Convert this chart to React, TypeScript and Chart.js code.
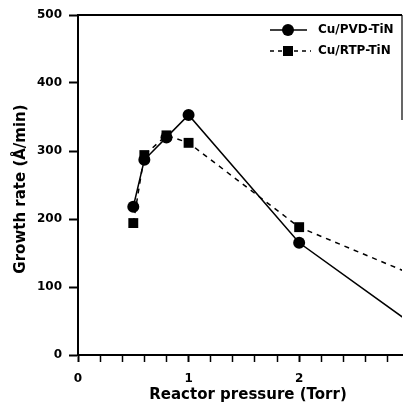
import React, { useEffect, useRef } from 'react';
import { Chart, registerables } from 'chart.js';

Chart.register(...registerables);

const pressureTorr = [0.5, 0.6, 0.8, 1.0, 2.0, 3.0];
const pvdRate = [218, 287, 320, 353, 165, 48];
const rtpRate = [194, 294, 323, 312, 188, 120];
const seriesNames = ['Cu/PVD-TiN', 'Cu/RTP-TiN'];
const xTickValues = [0, 0.2, 0.4, 0.6, 0.8, 1, 1.2, 1.4, 1.6, 1.8, 2, 2.2, 2.4, 2.6, 2.8];
const yTickValues = [0, 100, 200, 300, 400, 500];
const xTitle = 'Reactor pressure (Torr)';
const yTitle = 'Growth rate (Å/min)';

const FONT = '"DejaVu Sans", "Liberation Sans", Arial, sans-serif';
const isInt = (v: number) => Math.abs(v - Math.round(v)) < 1e-6;

const decorPlugin = {
  id: 'decor',
  afterDraw(chart: any) {
    const { ctx, chartArea: a } = chart;
    ctx.save();
    ctx.strokeStyle = '#000';
    ctx.lineWidth = 2;
    ctx.beginPath();
    ctx.moveTo(a.left, a.top);
    ctx.lineTo(a.right, a.top);
    ctx.stroke();
    ctx.lineWidth = 1.2;
    ctx.beginPath();
    ctx.moveTo(a.right, a.top);
    ctx.lineTo(a.right, a.top + 105);
    ctx.stroke();

    // legend
    const lx0 = 270;
    const lx1 = 307;
    const mx = 288;
    const rows = [30, 51];
    ctx.lineWidth = 1.5;
    ctx.fillStyle = '#000';
    ctx.setLineDash([]);
    ctx.beginPath();
    ctx.moveTo(lx0, rows[0]);
    ctx.lineTo(lx1, rows[0]);
    ctx.stroke();
    ctx.beginPath();
    ctx.arc(mx, rows[0], 6, 0, Math.PI * 2);
    ctx.fill();
    ctx.setLineDash([4, 4]);
    ctx.beginPath();
    ctx.moveTo(lx0, rows[1]);
    ctx.lineTo(lx1 + 4, rows[1]);
    ctx.stroke();
    ctx.setLineDash([]);
    ctx.fillRect(mx - 5, rows[1] - 5, 10, 10);

    ctx.font = `bold 12px ${FONT}`;
    ctx.textAlign = 'left';
    ctx.textBaseline = 'middle';
    ctx.fillText(seriesNames[0], 318, rows[0]);
    ctx.fillText(seriesNames[1], 318, rows[1]);

    // axis titles
    ctx.font = `bold 15px ${FONT}`;
    ctx.textAlign = 'center';
    ctx.textBaseline = 'middle';
    ctx.fillText(xTitle, 248, 395);
    ctx.translate(21, 189);
    ctx.rotate(-Math.PI / 2);
    ctx.fillText(yTitle, 0, 0);
    ctx.restore();
  },
};

export default function App() {
  const ref = useRef<HTMLCanvasElement | null>(null);

  useEffect(() => {
    document.body.style.margin = '0';
    const canvas = ref.current;
    if (!canvas) return;
    const tickFont = { family: FONT, weight: 'bold' as const, size: 12 };
    const chart = new Chart(canvas, {
      type: 'line',
      data: {
        datasets: [
          {
            label: seriesNames[0],
            data: pressureTorr.map((x, i) => ({ x, y: pvdRate[i] })),
            borderColor: '#000',
            backgroundColor: '#000',
            borderWidth: 1.5,
            pointStyle: 'circle',
            pointRadius: 6,
            pointBorderWidth: 0,
            tension: 0,
          },
          {
            label: seriesNames[1],
            data: pressureTorr.map((x, i) => ({ x, y: rtpRate[i] })),
            borderColor: '#000',
            backgroundColor: '#000',
            borderWidth: 1.5,
            borderDash: [5, 5],
            pointStyle: 'rect',
            pointRadius: 7,
            pointBorderWidth: 0,
            tension: 0,
          },
        ],
      },
      options: {
        responsive: false,
        animation: false,
        layout: { autoPadding: false, padding: { top: 15, right: 2, left: 0, bottom: 0 } },
        plugins: { legend: { display: false }, tooltip: { enabled: false } },
        scales: {
          x: {
            type: 'linear',
            min: 0,
            max: 2.93,
            afterBuildTicks: (s: any) => {
              s.ticks = xTickValues.map((v) => ({ value: v }));
            },
            afterFit: (s: any) => {
              s.height = 59;
              s.paddingLeft = 0;
              s.paddingRight = 0;
            },
            grid: {
              drawOnChartArea: false,
              drawTicks: true,
              tickLength: 7,
              tickColor: '#000',
              tickWidth: (c: any) => (c.tick && isInt(c.tick.value) ? 2 : 1.5),
            },
            border: { display: true, color: '#000', width: 2 },
            ticks: {
              autoSkip: false,
              maxRotation: 0,
              padding: 10,
              color: '#000',
              font: tickFont,
              callback: (v: any) => (isInt(Number(v)) ? String(Math.round(Number(v))) : ''),
            },
          },
          y: {
            type: 'linear',
            min: 0,
            max: 500,
            afterBuildTicks: (s: any) => {
              s.ticks = yTickValues.map((v) => ({ value: v }));
            },
            afterFit: (s: any) => {
              s.width = 78;
              s.paddingTop = 0;
              s.paddingBottom = 0;
            },
            grid: {
              drawOnChartArea: false,
              drawTicks: true,
              tickLength: 9,
              tickColor: '#000',
              tickWidth: 2,
            },
            border: { display: true, color: '#000', width: 2 },
            ticks: {
              padding: 7,
              color: '#000',
              font: tickFont,
              callback: (v: any) => String(v),
            },
          },
        },
      },
      plugins: [decorPlugin],
    });
    return () => chart.destroy();
  }, []);

  return (
    <div style={{ width: 404, height: 414 }}>
      <canvas ref={ref} width={404} height={414} style={{ display: 'block' }} />
    </div>
  );
}
